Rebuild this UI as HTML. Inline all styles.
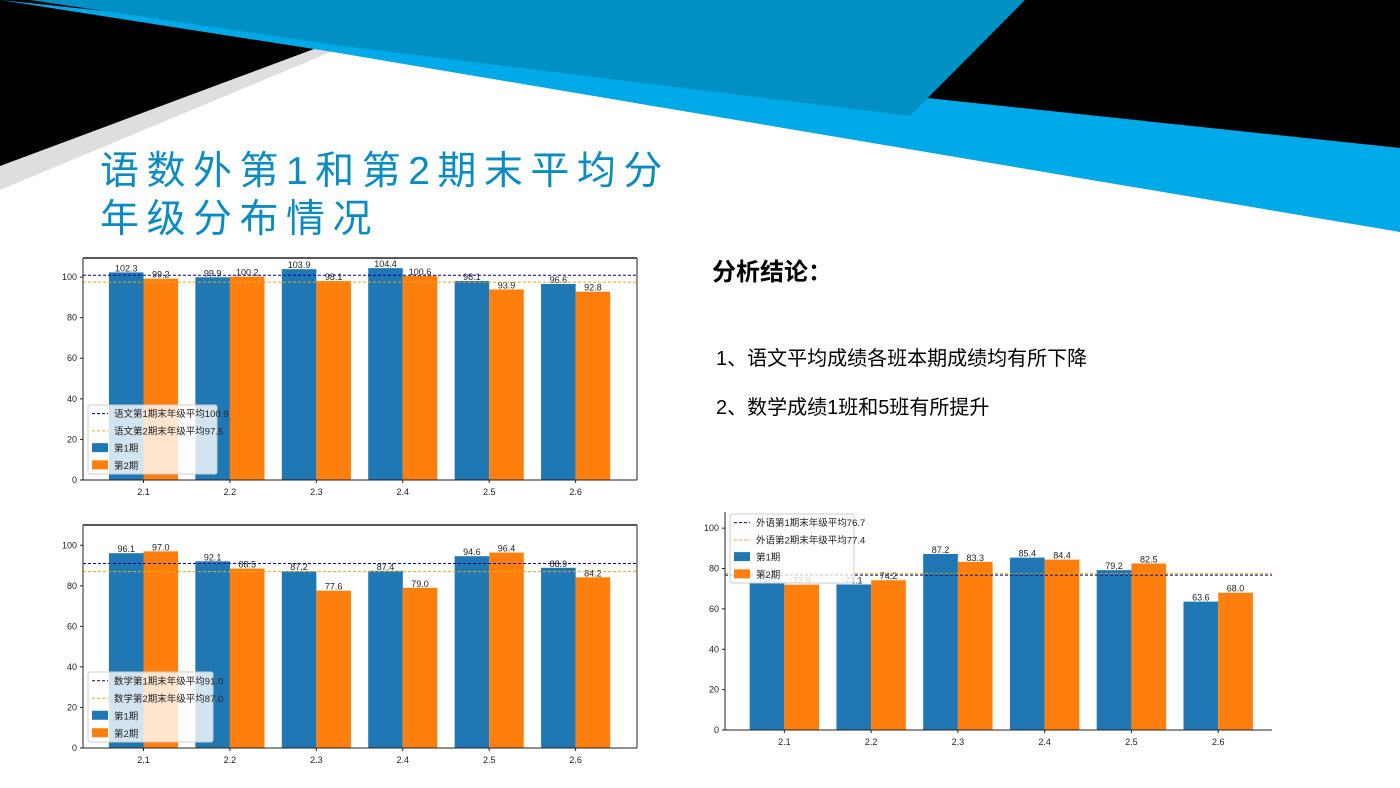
<!DOCTYPE html>
<html><head><meta charset="utf-8">
<style>
html,body{margin:0;padding:0;background:#fff;}
body{width:1400px;height:788px;overflow:hidden;position:relative;font-family:"Liberation Sans","Noto Sans CJK SC",sans-serif;}
.t{position:absolute;white-space:nowrap;}
</style></head>
<body>
<svg id="bg" width="1400" height="788" style="position:absolute;left:0;top:0">
  <polygon points="0,0 1400,0 1400,150 330,50 0,168" fill="#000"/>
  <polygon points="322,46 345,46 0,190 0,166" fill="#dedede"/>
  <polygon points="0,0 1400,148 1400,232 333,52" fill="#00aae8"/>
  <polygon points="30,0 1025,0 910,116 335,45" fill="#0090c4"/>
</svg>
<div class="t" style="left:100px;top:148px;font-size:39px;line-height:48px;color:#0a8bc2;letter-spacing:7.5px;font-family:'Liberation Sans','Noto Sans CJK SC',sans-serif;">语数外第1和第2期末平均分<br>年级分布情况</div>
<div class="t" style="left:712px;top:252px;font-size:24px;font-weight:bold;color:#000;">分析结论：</div>
<div class="t" style="left:716px;top:342px;font-size:20px;color:#000;">1、语文平均成绩各班本期成绩均有所下降</div>
<div class="t" style="left:716px;top:391px;font-size:20px;color:#000;">2、数学成绩1班和5班有所提升</div>
<svg id="charts" width="1400" height="788" style="position:absolute;left:0;top:0"></svg>
<script>
const categories = ["2.1","2.2","2.3","2.4","2.5","2.6"];
const yTicks = [0,20,40,60,80,100];
const chinese1 = [102.3,99.9,103.9,104.4,98.1,96.6];
const chinese2 = [99.2,100.2,98.1,100.6,93.9,92.8];
const chineseAvg = [100.9,97.5];
const math1 = [96.1,92.1,87.2,87.4,94.6,88.9];
const math2 = [97.0,88.5,77.6,79.0,96.4,84.2];
const mathAvg = [91.0,87.0];
const eng1 = [72.9,72.1,87.2,85.4,79.2,63.6];
const eng2 = [72.0,74.2,83.3,84.4,82.5,68.0];
const engAvg = [76.7,77.4];

const NS="http://www.w3.org/2000/svg";
const root=document.getElementById('charts');
function mk(tag,attrs,parent){const e=document.createElementNS(NS,tag);for(const k in attrs)e.setAttribute(k,attrs[k]);(parent||root).appendChild(e);return e;}

function chart(cfg){
  const g=mk('g',{});
  
  
  const {x0,x1,yTop,yBot,ymax,xl,xr}=cfg;
  const sx=i=>x0+(i-xl)/(xr-xl)*(x1-x0);
  const sy=v=>yBot-v/ymax*(yBot-yTop);
  const step=sx(1)-sx(0), bw=step*0.4;
  // bars
  cfg.s1.forEach((v,i)=>{
    const r=mk('rect',{x:sx(i)-bw,y:sy(v),width:bw,height:yBot-sy(v),fill:'#1f77b4'},g);
    
    
    const t=mk('text',{x:sx(i)-bw/2,y:sy(v)-1,'font-size':9,'text-anchor':'middle',fill:'#222'},g);
    t.textContent=v.toFixed(1);
    
    
  });
  cfg.s2.forEach((v,i)=>{
    const r=mk('rect',{x:sx(i),y:sy(v),width:bw,height:yBot-sy(v),fill:'#ff7f0e'},g);
    
    
    const t=mk('text',{x:sx(i)+bw/2,y:sy(v)-1,'font-size':9,'text-anchor':'middle',fill:'#222'},g);
    t.textContent=v.toFixed(1);
    
    
  });
  // avg lines
  const l1=mk('line',{x1:x0,x2:x1,y1:sy(cfg.avg[0]),y2:sy(cfg.avg[0]),stroke:'#00008b','stroke-width':1,'stroke-dasharray':'3,2'},g);
  
  
  const l2=mk('line',{x1:x0,x2:x1,y1:sy(cfg.avg[1]),y2:sy(cfg.avg[1]),stroke:'#e6a817','stroke-width':1,'stroke-dasharray':'3,2'},g);
  
  
  // spines
  mk('line',{x1:x0,x2:x0,y1:yTop,y2:yBot,stroke:'#222','stroke-width':1},g);
  mk('line',{x1:x0,x2:x1,y1:yBot,y2:yBot,stroke:'#222','stroke-width':1},g);
  if(cfg.box){
    mk('line',{x1:x0,x2:x1,y1:yTop,y2:yTop,stroke:'#222','stroke-width':1.5},g);
    mk('line',{x1:x1,x2:x1,y1:yTop,y2:yBot,stroke:'#222','stroke-width':1},g);
  }
  yTicks.forEach(v=>{
    mk('line',{x1:x0-3,x2:x0,y1:sy(v),y2:sy(v),stroke:'#222'},g);
    const t=mk('text',{x:x0-6,y:sy(v)+3,'font-size':9,'text-anchor':'end',fill:'#222'},g);
    t.textContent=v;
    
    
  });
  categories.forEach((c,i)=>{
    mk('line',{x1:sx(i),x2:sx(i),y1:yBot,y2:yBot+3,stroke:'#222'},g);
    const t=mk('text',{x:sx(i),y:yBot+15,'font-size':9,'text-anchor':'middle',fill:'#222'},g);
    t.textContent=c;
    
    
  });
  // legend
  const L=cfg.leg;
  const lg=mk('g',{},g);
  
  
  mk('rect',{x:L.x,y:L.y,width:L.w,height:L.h,rx:2,fill:'rgba(255,255,255,0.8)',stroke:'#ccc'},lg);
  const rowH=L.h/4;
  const items=[[cfg.subj+'第1期末年级平均'+cfg.avg[0].toFixed(1),'line','#00008b'],[cfg.subj+'第2期末年级平均'+cfg.avg[1].toFixed(1),'line','#e6a817'],['第1期','rect','#1f77b4'],['第2期','rect','#ff7f0e']];
  items.forEach((it,k)=>{
    const cy=L.y+rowH*(k+0.5);
    if(it[1]==='line') mk('line',{x1:L.x+4,x2:L.x+20,y1:cy,y2:cy,stroke:it[2],'stroke-dasharray':'3,2'},lg);
    else mk('rect',{x:L.x+4,y:cy-5,width:16,height:9,fill:it[2]},lg);
    const t=mk('text',{x:L.x+26,y:cy+3.5,'font-size':9.5,fill:'#222'},lg);
    t.textContent=it[0];
    
    
  });
}
chart({name:'chinese-chart',subj:'语文',s1:chinese1,s2:chinese2,avg:chineseAvg,x0:83,x1:637,yTop:258,yBot:480,ymax:109.4,xl:-0.7,xr:5.71,box:true,leg:{x:88,y:405,w:129,h:69}});
chart({name:'math-chart',subj:'数学',s1:math1,s2:math2,avg:mathAvg,x0:83,x1:637,yTop:525,yBot:748,ymax:110,xl:-0.7,xr:5.71,box:true,leg:{x:88,y:672,w:125,h:70}});
chart({name:'english-chart',subj:'外语',s1:eng1,s2:eng2,avg:engAvg,x0:725,x1:1272,yTop:512,yBot:730,ymax:108,xl:-0.684,xr:5.62,box:false,leg:{x:730,y:514,w:124,h:69}});
</script>
</body></html>
